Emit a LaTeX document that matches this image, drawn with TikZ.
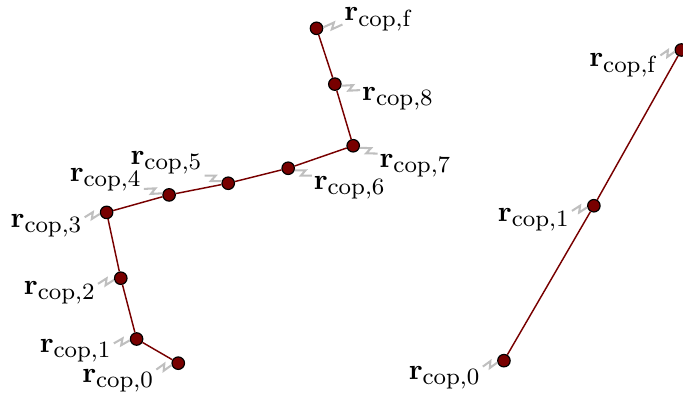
\documentclass[tikz,border=0pt]{standalone}
\usepackage{tikz}
\usetikzlibrary{decorations}
\DeclareMathSizes{10}{10}{8}{6}

\definecolor{copred}{RGB}{120,0,0}

% small lightning-bolt kink for the label connectors
\pgfdeclaredecoration{kink}{draw}{
  \state{draw}[width=\pgfdecoratedpathlength-0.05pt]{
    \pgfpathlineto{\pgfpoint{0.58*\pgfdecoratedpathlength}{1.1pt}}
    \pgfpathlineto{\pgfpoint{0.42*\pgfdecoratedpathlength}{-1.1pt}}
    \pgfpathlineto{\pgfpoint{\pgfdecoratedpathlength-0.05pt}{0pt}}
  }
}

\newcommand{\rcop}[1]{$\mathbf{r}_{\mathrm{cop,#1}}$}

\begin{document}
\begin{tikzpicture}[
    pt/.style={circle, draw=black, fill=copred, line width=0.4pt, minimum size=0.15cm, inner sep=0pt},
    lbl/.style={inner sep=0.5pt},
    chain/.style={copred, line width=0.5pt},
    bolt/.style={gray!50, line width=0.7pt, decorate, decoration={kink}}
]
\useasboundingbox (0,0) rectangle (8.2,4.73);

% ============ FINE PATH (LEFT) ============
\node[pt] (p0) at (2.14,0.37) {};
\node[pt] (p1) at (1.64,0.66) {};
\node[pt] (p2) at (1.45,1.39) {};
\node[pt] (p3) at (1.28,2.18) {};
\node[pt] (p4) at (2.03,2.39) {};
\node[pt] (p5) at (2.74,2.53) {};
\node[pt] (p6) at (3.46,2.71) {};
\node[pt] (p7) at (4.24,2.98) {};
\node[pt] (p8) at (4.02,3.72) {};
\node[pt] (pf) at (3.80,4.39) {};

\draw[chain] (p0) -- (p1) -- (p2) -- (p3) -- (p4) -- (p5) -- (p6) -- (p7) -- (p8) -- (pf);

% labels
\node[lbl] (l0) at (1.42,0.16) {\rcop{0}};
\node[lbl] (l1) at (0.91,0.52) {\rcop{1}};
\node[lbl] (l2) at (0.72,1.21) {\rcop{2}};
\node[lbl] (l3) at (0.56,2.02) {\rcop{3}};
\node[lbl] (l4) at (1.27,2.57) {\rcop{4}};
\node[lbl] (l5) at (2.00,2.77) {\rcop{5}};
\node[lbl] (l6) at (4.20,2.48) {\rcop{6}};
\node[lbl] (l7) at (4.99,2.74) {\rcop{7}};
\node[lbl] (l8) at (4.78,3.54) {\rcop{8}};
\node[lbl] (lf) at (4.55,4.50) {\rcop{f}};

\foreach \i in {0,...,8,f}
  \draw[bolt] (l\i) -- (p\i);

% ============ COARSE PATH (RIGHT) ============
\node[pt] (q0) at (6.05,0.40) {};
\node[pt] (q1) at (7.13,2.26) {};
\node[pt] (qf) at (8.18,4.13) {};

\draw[chain] (q0) -- (q1) -- (qf);

\node[lbl] (m0) at (5.34,0.20) {\rcop{0}};
\node[lbl] (m1) at (6.41,2.09) {\rcop{1}};
\node[lbl] (mf) at (7.49,3.95) {\rcop{f}};

\foreach \i in {0,1,f}
  \draw[bolt] (m\i) -- (q\i);

\end{tikzpicture}
\end{document}
